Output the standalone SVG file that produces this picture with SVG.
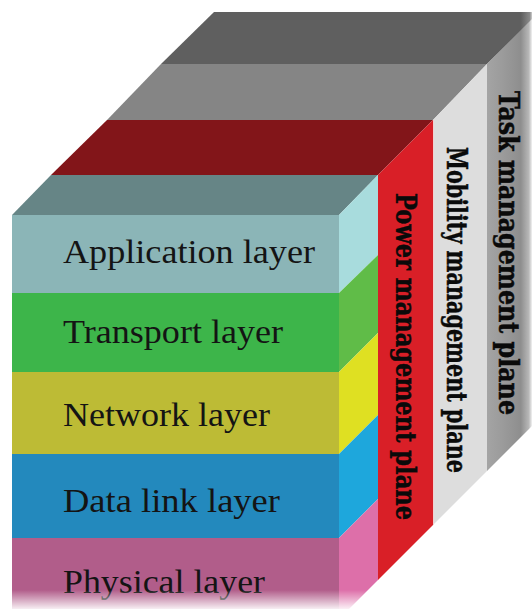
<svg xmlns="http://www.w3.org/2000/svg" width="532" height="609" viewBox="0 0 532 609">
<defs>
<style>
.lbl{font-family:"Liberation Serif","Times New Roman",serif;font-size:33px;fill:#141414}
.vl{font-family:"DejaVu Serif","Liberation Serif",serif;font-weight:bold;font-size:28px;fill:#0a0a0a;stroke:#0a0a0a;stroke-width:0.5}
</style>
<linearGradient id="taskSide" x1="487" y1="0" x2="532" y2="0" gradientUnits="userSpaceOnUse">
<stop offset="0" stop-color="#a4a4a4"/>
<stop offset="0.35" stop-color="#9b9b9b"/>
<stop offset="0.75" stop-color="#8e8e8e"/>
<stop offset="0.93" stop-color="#b8b8b8"/>
<stop offset="1" stop-color="#f2f2f2"/>
</linearGradient>
<linearGradient id="topFade" x1="487" y1="0" x2="532" y2="0" gradientUnits="userSpaceOnUse">
<stop offset="0" stop-color="#5f5f5f"/>
<stop offset="0.75" stop-color="#5f5f5f"/>
<stop offset="0.95" stop-color="#8a8a8a"/>
<stop offset="1" stop-color="#d0d0d0"/>
</linearGradient>
<linearGradient id="bottomFade" x1="0" y1="590" x2="0" y2="609" gradientUnits="userSpaceOnUse">
<stop offset="0" stop-color="#fff" stop-opacity="0"/>
<stop offset="1" stop-color="#fff" stop-opacity="0.9"/>
</linearGradient>
</defs>
<rect width="532" height="609" fill="#fff"/>

<g id="task-plane">
<polygon points="161,64 487,64 540,12 214,12" fill="url(#topFade)"/>
<polygon points="487,64 540,11 540,418 487,471" fill="url(#taskSide)"/>
<text class="vl" transform="translate(499,91) rotate(90)" textLength="324" lengthAdjust="spacingAndGlyphs">Task management plane</text>
</g>

<g id="mobility-plane">
<polygon points="107,120 433,120 487,64 161,64" fill="#858585"/>
<polygon points="433,120 487,64 487,471 433,525" fill="#dddddd"/>
<text class="vl" transform="translate(447,147) rotate(90)" textLength="326" lengthAdjust="spacingAndGlyphs">Mobility management plane</text>
</g>

<g id="power-plane">
<polygon points="51,175 378,175 433,120 107,120" fill="#821519"/>
<polygon points="378,175 433,120 433,525 378,580" fill="#d91f27"/>
<line x1="433.5" y1="120" x2="433.5" y2="525" stroke="#f0d0d0" stroke-width="1"/>
<text class="vl" transform="translate(396,193) rotate(90)" textLength="327" lengthAdjust="spacingAndGlyphs">Power management plane</text>
</g>

<g id="application-layer">
<polygon points="12,215 339,215 378,175 51,175" fill="#668586"/>
<rect x="12" y="215" width="327" height="78" fill="#8bb5b7"/>
<polygon points="339,215 378,175 378,255 339,293" fill="#a8dcdd"/>
<text class="lbl" x="63" y="263" textLength="252" lengthAdjust="spacingAndGlyphs">Application layer</text>
</g>

<g id="transport-layer">
<rect x="12" y="293" width="327" height="79" fill="#3db54a"/>
<polygon points="339,293 378,255 378,333 339,372" fill="#60bc48"/>
<text class="lbl" x="63" y="343" textLength="220" lengthAdjust="spacingAndGlyphs">Transport layer</text>
</g>

<g id="network-layer">
<rect x="12" y="372" width="327" height="82" fill="#bdbb35"/>
<polygon points="339,372 378,333 378,415 339,454" fill="#dfe022"/>
<text class="lbl" x="63" y="426" textLength="207" lengthAdjust="spacingAndGlyphs">Network layer</text>
</g>

<g id="data-link-layer">
<rect x="12" y="454" width="327" height="84" fill="#2389bd"/>
<polygon points="339,454 378,415 378,499 339,538" fill="#1ea7dc"/>
<text class="lbl" x="63" y="512" textLength="217" lengthAdjust="spacingAndGlyphs">Data link layer</text>
</g>

<g id="physical-layer">
<rect x="12" y="538" width="327" height="81" fill="#b15d8a"/>
<polygon points="339,538 378,499 378,580 339,619" fill="#dd6fa9"/>
<text class="lbl" x="63" y="593" textLength="202" lengthAdjust="spacingAndGlyphs">Physical layer</text>
</g>

<rect x="0" y="590" width="400" height="19" fill="url(#bottomFade)"/>
</svg>
